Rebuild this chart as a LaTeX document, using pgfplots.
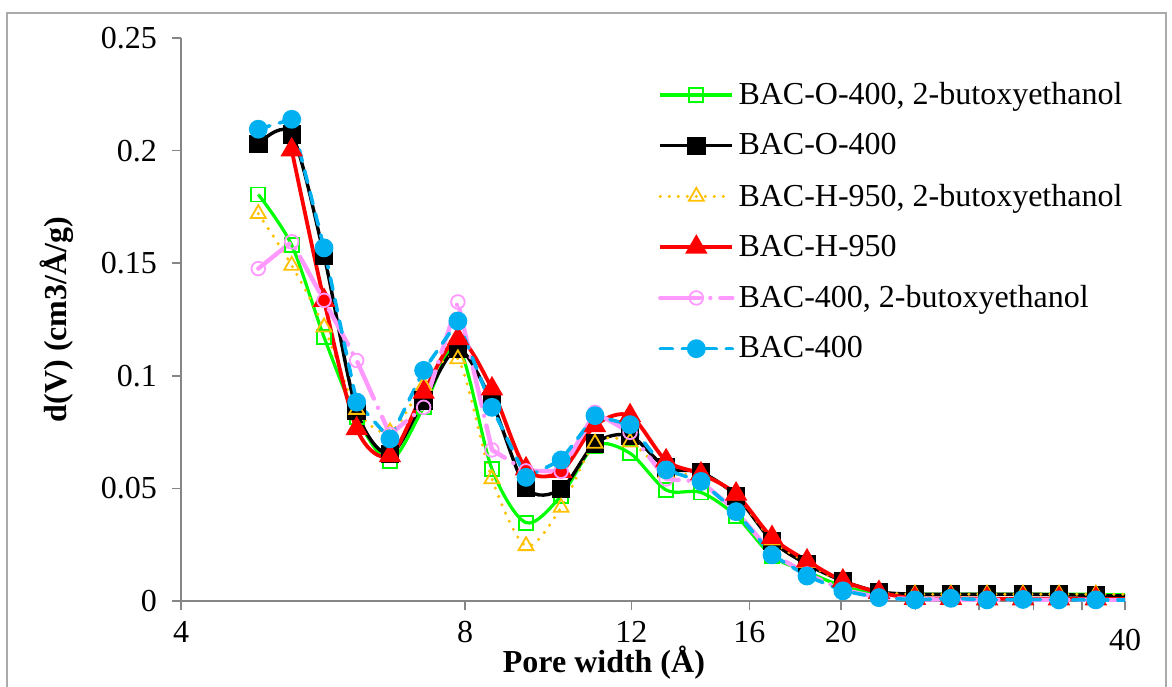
\documentclass[border=0pt]{standalone}
\usepackage{fontspec}
\setmainfont{Liberation Serif}
\usepackage{pgfplots}
\usepackage{pgfplotstable}
\pgfplotsset{compat=1.18}

\definecolor{axgray}{RGB}{134,134,134}
\definecolor{frgray}{RGB}{170,170,170}
\definecolor{cgreen}{RGB}{0,255,0}
\definecolor{cyel}{RGB}{255,192,0}
\definecolor{cred}{RGB}{255,0,0}
\definecolor{cpink}{RGB}{255,153,255}
\definecolor{cblue}{RGB}{0,176,240}

% pore width (A) and dV for the six samples
\pgfplotstableread{
x     g      k      y      r      p      b
4.83  0.1805 0.2028 0.172  nan    0.1476 0.2095
5.24  0.158  0.2072 0.149  0.2003 0.1595 0.2139
5.67  0.1172 0.1535 0.1216 0.1335 0.1335 0.1568
6.14  0.0816 0.0846 0.085  0.0765 0.1068 0.0883
6.66  0.0623 0.0653 0.075  0.0645 0.074  0.0720
7.23  0.086  0.089  0.0957 0.0927 0.086  0.1024
7.86  0.113  0.112  0.1075 0.1165 0.1328 0.1243
8.54  0.0586 0.0883 0.0542 0.0942 0.0671 0.086
9.28  0.0348 0.0504 0.0245 0.0587 0.0578 0.0549
10.11 0.0467 0.0497 0.0415 0.0576 0.0576 0.0626
10.98 0.069  0.070  0.070  0.0779 0.0838 0.0823
11.96 0.0656 0.0734 0.0705 0.0823 0.0749 0.0783
13.06 0.0493 0.0593 0.057  0.0623 0.0542 0.0582
14.22 0.0482 0.0571 0.056  0.0564 0.053  0.0531
15.49 0.0378 0.0467 0.047  0.0475 0.040  0.0397
16.91 0.020  0.0267 0.027  0.0282 0.021  0.0205
18.42 0.013  0.0163 0.017  0.0178 0.012  0.0111
20.10 0.0065 0.0089 0.008  0.0089 0.005  0.0045
21.95 0.0033 0.0041 0.004  0.0038 0.0015 0.0015
23.96 0.003  0.003  0.003  0.0012 0.0008 0.0005
26.16 0.003  0.003  0.003  0.0012 0.0006 0.0012
28.57 0.003  0.003  0.003  0.0010 0.0005 0.0005
31.19 0.003  0.003  0.003  0.0010 0.0005 0.0007
34.05 0.003  0.0028 0.003  0.0010 0.0005 0.0005
37.26 0.003  0.0025 0.003  0.0010 0.0005 0.0005
}\psd

% last point runs on past the right edge (no marker there)
\pgfplotstableread{
x     g      k      y      r      p      b
37.26 0.003  0.0025 0.003  0.0010 0.0005 0.0005
41.0  0.003  0.0025 0.003  0.0010 0.0005 0.0005
}\tail

\begin{document}
\begin{tikzpicture}
\useasboundingbox (0,0) rectangle (586pt,343pt);
\draw[frgray, line width=0.8pt] (3.5pt,-10pt) rectangle (583pt,336.5pt);
\begin{axis}[
    at={(90.5pt,42.5pt)}, anchor=south west,
    scale only axis, width=472pt, height=281.5pt,
    xmode=log, xmin=4, xmax=40, ymin=0, ymax=0.25,
    axis x line*=bottom, axis y line*=left,
    axis line style={axgray, line width=0.8pt},
    tick style={axgray, line width=0.8pt},
    tick align=outside, major tick length=4.5pt,
    xtick={4,8,12,16,20,24,28,32,36},
    xticklabels={4,8,12,16,20,,,,},
    extra x ticks={40},
    extra x tick labels={40},
    extra x tick style={xticklabel style={yshift=-4pt}},
    ytick={0,0.05,0.1,0.15,0.2,0.25},
    yticklabels={0,0.05,0.1,0.15,0.2,0.25},
    tick label style={font=\fontsize{16}{19}\selectfont, text=black},
    xticklabel style={yshift=-2pt},
    yticklabel style={xshift=-4pt},
    label style={font=\fontsize{16}{19}\selectfont\bfseries},
    xlabel={Pore width (Å)},
    ylabel={d(V) (cm3/Å/g)},
    xlabel style={at={(axis description cs:0.448,0)}, anchor=center, yshift=-31pt},
    ylabel style={yshift=7pt},
    legend style={at={(0.505,0.929)}, anchor=north west, draw=none, fill=none,
        font=\fontsize{16}{19}\selectfont, row sep=9pt, inner sep=0pt,
        /tikz/every even column/.append style={column sep=3pt}},
    legend cell align=left,
    legend image code/.code={\draw[mark repeat=2,mark phase=2,#1] plot coordinates {(0pt,0pt) (18pt,0pt) (36pt,0pt)};},
]
\addplot[cgreen, line width=1.6pt, smooth, mark=square, mark size=3.5pt,
    mark options={solid, line width=0.9pt}] table[x=x,y=g]{\psd};
\addlegendentry{BAC-O-400, 2-butoxyethanol}
\addplot[black, line width=1.7pt, smooth, mark=square*, mark size=3.75pt,
    mark options={solid}] table[x=x,y=k]{\psd};
\addlegendentry{BAC-O-400}
\addplot[cyel, line width=1.7pt, smooth, line cap=round, dash pattern=on 0pt off 4.5pt,
    mark=triangle, mark size=4.3pt, mark options={solid, line width=0.9pt}] table[x=x,y=y]{\psd};
\addlegendentry{BAC-H-950, 2-butoxyethanol}
\addplot[cred, line width=1.9pt, smooth, mark=triangle*, mark size=4.6pt,
    mark options={solid}] table[x=x,y=r]{\psd};
\addlegendentry{BAC-H-950}
\addplot[cpink, line width=2.2pt, line cap=round, dash pattern=on 20pt off 5pt on 0pt off 5pt,
    mark=o, mark size=3.4pt, mark options={solid, line width=0.9pt}] table[x=x,y=p]{\psd};
\addlegendentry{BAC-400, 2-butoxyethanol}
\addplot[cblue, line width=1.8pt, line cap=round, dash pattern=on 6pt off 5pt,
    mark=*, mark size=3.8pt, mark options={solid}] table[x=x,y=b]{\psd};
\addlegendentry{BAC-400}

\addplot[cgreen, line width=1.6pt, forget plot] table[x=x,y=g]{\tail};
\addplot[black, line width=1.7pt, forget plot] table[x=x,y=k]{\tail};
\addplot[cyel, line width=1.7pt, line cap=round, dash pattern=on 0pt off 4.5pt, forget plot] table[x=x,y=y]{\tail};
\addplot[cred, line width=1.9pt, forget plot] table[x=x,y=r]{\tail};
\addplot[cpink, line width=2.2pt, line cap=round, dash pattern=on 20pt off 5pt on 0pt off 5pt, forget plot] table[x=x,y=p]{\tail};
\addplot[cblue, line width=1.8pt, line cap=round, dash pattern=on 6pt off 5pt, forget plot] table[x=x,y=b]{\tail};
\end{axis}
\end{tikzpicture}
\end{document}
